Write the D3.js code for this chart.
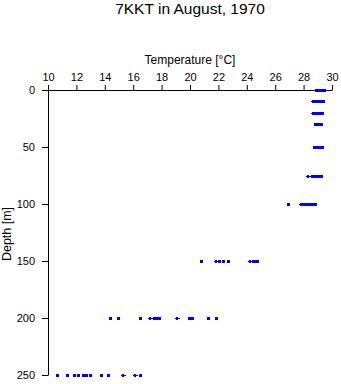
<!DOCTYPE html>
<html>
<head>
<meta charset="utf-8">
<script src="https://cdn.jsdelivr.net/npm/d3@7/dist/d3.min.js"></script>
<style>
  html, body { margin: 0; padding: 0; background: #fff; }
  svg { display: block; }
  text { font-family: "Liberation Sans", Arial, Helvetica, sans-serif; fill: #000; }
</style>
</head>
<body>
<svg id="chart" width="341" height="384"></svg>
<script>
// ---- data (temperature readings in °C at each standard depth) ----
const depths = [0, 10, 20, 30, 50, 75, 100, 150, 200, 250];
const temps0   = [28.9, 28.97, 29.03, 29.1, 29.15, 29.2, 29.27, 29.35, 29.42];
const temps10  = [28.82, 28.9, 29.0, 29.07, 29.15, 29.22, 29.3, 29.4];
const temps20  = [28.8, 28.9, 28.97, 29.05, 29.12, 29.2, 29.27];
const temps30  = [28.78, 28.85, 28.95, 29.02, 29.1, 29.18, 29.25];
const temps50  = [28.7, 28.8, 28.9, 28.98, 29.05, 29.12, 29.2, 29.27];
const temps75  = [28.62, 28.72, 28.82, 28.92, 29.02, 29.1, 29.2];
const temps100 = [26.9, 27.98, 28.2, 28.35, 28.55, 28.7, 28.8];
const temps150 = [20.8, 22.05, 22.3, 22.7, 24.45, 24.6, 24.75];
const temps200 = [14.4, 14.9, 16.5, 17.45, 17.65, 17.8, 19.95, 20.15, 21.3, 21.8];
const temps250 = [10.65, 11.35, 11.85, 12.1, 12.45, 12.7, 12.95, 13.75, 14.2, 16.45];
// readings drawn with the cross-shaped marker
const crossDepths = [10, 20, 75, 100, 150, 150, 200, 200, 250, 250];
const crossTemps  = [28.68, 28.68, 28.3, 27.8, 21.85, 24.25, 17.2, 19.05, 15.25, 16.15];
const tempTicks  = [10, 12, 14, 16, 18, 20, 22, 24, 26, 28, 30];
const depthTicks = [0, 50, 100, 150, 200, 250];
const titleText = "7KKT in August, 1970";
const xLabel = "Temperature [°C]";
const yLabel = "Depth [m]";

const tempsByDepth = [temps0, temps10, temps20, temps30, temps50, temps75, temps100, temps150, temps200, temps250];
const points = [];
depths.forEach((d, i) => tempsByDepth[i].forEach(t => points.push({depth: d, temp: t})));
const crosses = crossDepths.map((d, i) => ({depth: d, temp: crossTemps[i]}));

// ---- layout ----
const svg = d3.select("#chart");
const x = d3.scaleLinear().domain([10, 30]).range([48, 332]);
const y = d3.scaleLinear().domain([0, 250]).range([90, 375]);

// title
svg.append("text")
  .attr("x", 190).attr("y", 14)
  .attr("text-anchor", "middle")
  .style("font-size", "15.5px")
  .text(titleText);

// x axis (top)
const xAxis = svg.append("g")
  .attr("transform", "translate(0,90)")
  .call(d3.axisTop(x).tickValues(tempTicks).tickSize(5).tickSizeOuter(0).tickPadding(4));
xAxis.selectAll("text").style("font-size", "11px").style("font-family", "'Liberation Sans', Arial, sans-serif");
xAxis.selectAll("path, line").attr("stroke", "#000");

svg.append("text")
  .attr("x", 190).attr("y", 64)
  .attr("text-anchor", "middle")
  .style("font-size", "12px")
  .text(xLabel);

// y axis (left)
const yAxis = svg.append("g")
  .attr("transform", "translate(48,0)")
  .call(d3.axisLeft(y).tickValues(depthTicks).tickSize(6).tickSizeOuter(0).tickPadding(7));
yAxis.selectAll("text").style("font-size", "11px").style("font-family", "'Liberation Sans', Arial, sans-serif");
yAxis.selectAll("path, line").attr("stroke", "#000");

svg.append("text")
  .attr("transform", "translate(11,234) rotate(-90)")
  .attr("text-anchor", "middle")
  .style("font-size", "12.5px")
  .text(yLabel);

// square markers
svg.append("g")
  .selectAll("rect")
  .data(points)
  .join("rect")
  .attr("x", d => Math.round(x(d.temp)) - 1)
  .attr("y", d => Math.round(y(d.depth)) - 1)
  .attr("width", 3)
  .attr("height", 3)
  .attr("fill", "#0000ff");

// cross markers
const cg = svg.append("g").attr("fill", "#0000ff");
crosses.forEach(d => {
  const cx = Math.round(x(d.temp)), cy = Math.round(y(d.depth));
  cg.append("rect").attr("x", cx - 2).attr("y", cy).attr("width", 5).attr("height", 1);
  cg.append("rect").attr("x", cx - 1).attr("y", cy - 1).attr("width", 2).attr("height", 3);
});
</script>
</body>
</html>
